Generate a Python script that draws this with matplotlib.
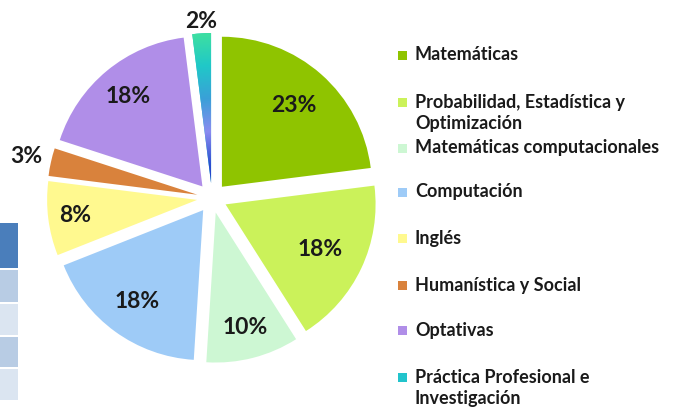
import numpy as np
import matplotlib
matplotlib.use("Agg")
import matplotlib.pyplot as plt
from matplotlib.patches import Rectangle
from matplotlib.colors import LinearSegmentedColormap

categories = ["Matemáticas", "Probabilidad, Estadística y\nOptimización",
              "Matemáticas computacionales", "Computación", "Inglés",
              "Humanística y Social", "Optativas",
              "Práctica Profesional e\nInvestigación"]
values = [23, 18, 10, 18, 8, 3, 18, 2]
colors = ["#8fc400", "#cbf25a", "#cdf7d3", "#9ecbf7", "#fff98f",
          "#d9823c", "#b08ee8", "#22c4cc"]
label_dist = [0.72, 0.70, 0.79, 0.75, 0.82, 1.17, 0.78, 1.08]

plt.rcParams['font.family'] = ['Lato', 'DejaVu Sans']

W, H = 676, 411
fig = plt.figure(figsize=(W / 100, H / 100), dpi=100)
ax = fig.add_axes([0, 0, 1, 1])
ax.set_axis_off()

cx, cy, R = 212, H - 198, 150
EXP = 15
wedges, _ = ax.pie(values, colors=colors, startangle=90, counterclock=False,
                   radius=R, center=(cx, cy), explode=[EXP] * len(values),
                   wedgeprops=dict(linewidth=0))

# percentage labels
total = sum(values)
cum = 0
for v, d, w in zip(values, label_dist, wedges):
    mid = 90 - (cum + v / 2) / total * 360
    cum += v
    th = np.deg2rad(mid)
    ox = cx + EXP * np.cos(th)
    oy = cy + EXP * np.sin(th)
    ax.text(ox + d * R * np.cos(th), oy + d * R * np.sin(th), f"{v}%",
            ha="center", va="center", fontsize=16.5, fontweight="bold",
            color="#1a1a1a")

# gradient fill for the last slice
cmap = LinearSegmentedColormap.from_list(
    "pp", ["#1a2fbf", "#2a4fd0", "#8a8cf0", "#3aa0d8", "#20c8c8", "#3ee0a0"])
gx = np.linspace(cx - 40, cx + 40, 200)
gy = np.linspace(cy - 10, cy + R + 40, 400)
GX, GY = np.meshgrid(gx, gy)
rr = np.hypot(GX - cx, GY - cy) / (R + EXP)
im = ax.imshow(rr, cmap=cmap, extent=(gx[0], gx[-1], gy[0], gy[-1]),
               origin="lower", vmin=0, vmax=1, interpolation="bilinear",
               zorder=2)
im.set_clip_path(wedges[-1])

# legend
leg_y = [55, 113, 148, 192, 238, 285, 330, 388]
for lab, col, y in zip(categories, colors, leg_y):
    nlines = lab.count("\n") + 1
    ty = y - (nlines - 1) * 11
    ax.add_patch(Rectangle((398, H - ty - 5), 9, 9, color=col, lw=0))
    ax.text(415, H - y, lab, ha="left", va="center", fontsize=13,
            fontweight="bold", color="#1a1a1a", linespacing=1.35)

# fragment of a table at the left edge
table_rows = [(223, 268, "#4a7ebb"), (270, 302, "#b8cce4"),
              (304, 335, "#dbe5f1"), (337, 367, "#b8cce4"),
              (369, 400, "#dbe5f1")]
for y0, y1, c in table_rows:
    ax.add_patch(Rectangle((0, H - y1), 18, y1 - y0, color=c, lw=0))

ax.set_xlim(0, W)
ax.set_ylim(0, H)
ax.set_aspect("auto")
fig.savefig("out.png", dpi=100)
